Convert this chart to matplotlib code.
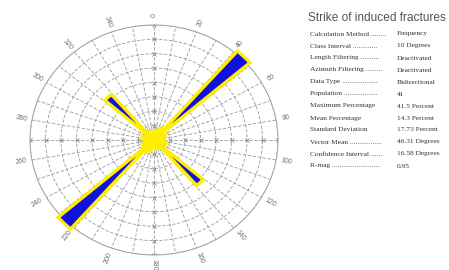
import numpy as np
import matplotlib
matplotlib.use('Agg')
import matplotlib.pyplot as plt

# class interval 10 deg, bidirectional -> 0..180 mirrored
bin_start = np.arange(0, 180, 10)
percent = [2, 3, 4, 5, 41, 3, 4, 2.5, 2, 3, 4, 2, 3, 21, 3, 2, 3, 2.5]

rings = [5, 10, 15, 20, 25, 30, 35, 40]
angle_labels = list(range(0, 360, 20))

stat_names = ['Calculation Method ........',
              'Class Interval .............',
              'Length Filtering ..........',
              'Azimuth Filtering .........',
              'Data Type ...................',
              'Population ..................',
              'Maximum Percentage',
              'Mean Percentage',
              'Standard Deviation',
              'Vector Mean .................',
              'Confidence Interval ......',
              'R-mag ..........................']
stat_values = ['Frequency', '10 Degrees', 'Deactivated', 'Deactivated',
               'Bidirectional', '41', '41.5 Percent', '14.3 Percent',
               '17.73 Percent', '46.31 Degrees', '16.58 Degrees', '0.95']

W, H = 449, 270
fig = plt.figure(figsize=(W/100, H/100), dpi=100)
ax = fig.add_axes([30/W, 15/H, 248/W, 230/H], projection='polar')
ax.set_theta_zero_location('N')
ax.set_theta_direction(-1)
ax.set_aspect('auto')

centers = np.deg2rad(np.concatenate([bin_start, bin_start + 180]) + 5)
vals = np.concatenate([percent, percent])
ax.bar(centers, vals, width=np.deg2rad(8), bottom=0, color='#1010e0',
       edgecolor='#ffee00', linewidth=2.4, zorder=5, clip_on=False)

ax.set_ylim(0, 40)
ax.set_rticks(rings)
ax.set_yticklabels([])
ax.set_thetagrids(range(0, 360, 10), labels=[''] * 36)
ax.grid(True, color='#9a9a9a', ls=(0, (4, 2)), lw=0.6)
ax.tick_params(axis='x', length=4, direction='out', color='#9a9a9a', width=0.6)
ax.spines['polar'].set_color('#a0a0a0')
ax.spines['polar'].set_linewidth(0.7)

# x marks on main axes
for a in [0, 90, 180, 270]:
    ax.plot([np.deg2rad(a)] * len(rings), rings, 'x', color='#8a8a8a',
            ms=2.5, mew=0.6, zorder=2)

for a in angle_labels:
    rot = 90 - a
    while rot > 90:
        rot -= 180
    while rot < -90:
        rot += 180
    ax.text(np.deg2rad(a), 43.5, str(a), rotation=rot, ha='center', va='center',
            fontsize=5, color='#707070', family='Liberation Sans', clip_on=False,
            rotation_mode='anchor')

fig.text(308/W, 1 - 18/H, 'Strike of induced fractures', fontsize=8.6,
         color='#555555', family='Liberation Sans', va='center')
for i, (n, v) in enumerate(zip(stat_names, stat_values)):
    y = 1 - (34 + 12 * i) / H
    fig.text(310/W, y, n, fontsize=5.3, color='#333333', family='Liberation Serif', va='center')
    fig.text(397/W, y, v, fontsize=5.3, color='#333333', family='Liberation Serif', va='center')

fig.savefig('out.png', dpi=100)
